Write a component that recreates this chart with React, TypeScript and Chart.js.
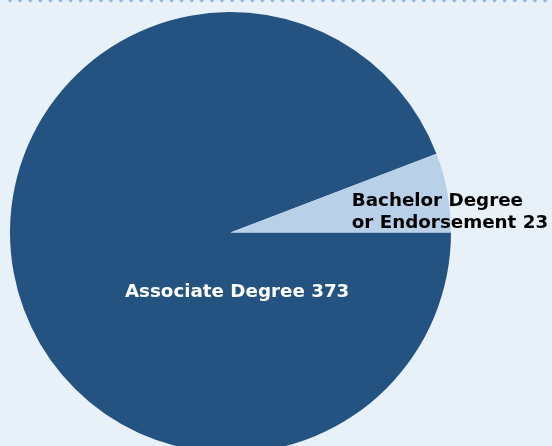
import React, { useEffect, useRef } from "react";
import { Chart, registerables } from "chart.js";

Chart.register(...registerables);

const categories: string[] = ["Associate Degree", "Bachelor Degree or Endorsement"];
const values: number[] = [373, 23];
const labelLines: string[][] = [["Associate Degree 373"], ["Bachelor Degree", "or Endorsement 23"]];
const colors: string[] = ["#245382", "#b8d0e8"];
const labelColors: string[] = ["#ffffff", "#000000"];

const labelPlugin = {
  id: "sliceLabels",
  afterDatasetsDraw(chart: any) {
    const meta = chart.getDatasetMeta(0);
    const ctx = chart.ctx;
    ctx.save();
    ctx.font = "bold 18.3px 'DejaVu Sans', Verdana, sans-serif";
    ctx.textBaseline = "middle";
    meta.data.forEach((arc: any, i: number) => {
      const r = arc.outerRadius;
      const cx = arc.x;
      const cy = arc.y;
      ctx.fillStyle = labelColors[i];
      const lines = labelLines[i];
      if (i === 0) {
        ctx.textAlign = "center";
        ctx.fillText(lines[0], cx + r * 0.03, cy + r * 0.27);
      } else {
        ctx.textAlign = "left";
        lines.forEach((ln, j) => {
          ctx.fillText(ln, cx + r * 0.55, cy - r * 0.14 + j * 22);
        });
      }
    });
    ctx.restore();
  },
};

export default function App() {
  const ref = useRef<HTMLCanvasElement | null>(null);
  useEffect(() => {
    if (!ref.current) return;
    const chart = new Chart(ref.current, {
      type: "pie",
      data: {
        labels: categories,
        datasets: [
          {
            data: values,
            backgroundColor: colors,
            borderWidth: 0,
          },
        ],
      },
      options: {
        animation: false,
        responsive: false,
        rotation: 90,
        layout: { padding: { left: 10, top: 12, right: 101, bottom: 7 } },
        plugins: {
          legend: { display: false },
          tooltip: { enabled: false },
        },
      },
      plugins: [labelPlugin],
    });
    return () => chart.destroy();
  }, []);

  return (
    <div
      style={{
        position: "fixed",
        left: 0,
        top: 0,
        width: 552,
        height: 446,
        background: "#e8f0f8",
        overflow: "hidden",
      }}
    >
      <canvas
        ref={ref}
        width={552}
        height={460}
        style={{ position: "absolute", left: 0, top: 0, width: 552, height: 460, display: "block" }}
      />
      <div
        style={{
          position: "absolute",
          left: 4.5,
          top: -2,
          width: 552,
          height: 5,
          backgroundImage: "radial-gradient(circle, #8fb7e6 1.5px, rgba(143,183,230,0) 2.1px)",
          backgroundSize: "10.1px 5px",
        }}
      />
    </div>
  );
}
